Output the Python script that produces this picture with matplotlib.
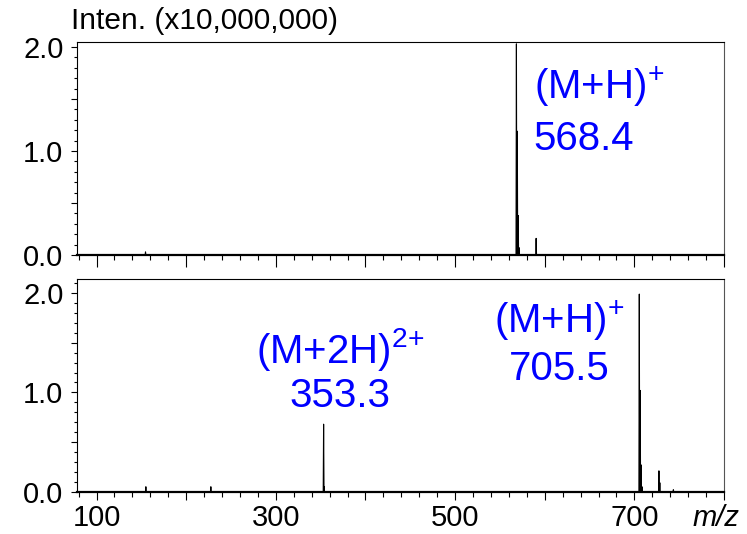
import matplotlib
matplotlib.use("Agg")
import matplotlib.pyplot as plt
from matplotlib.ticker import FixedLocator, MultipleLocator, FuncFormatter
import numpy as np

plt.rcParams['font.family'] = ['Liberation Sans', 'DejaVu Sans']
plt.rcParams['mathtext.fontset'] = 'custom'
plt.rcParams['mathtext.rm'] = 'Liberation Sans'
plt.rcParams['mathtext.it'] = 'Liberation Sans:italic'

# Peak lists (m/z, intensity in units of 10,000,000 counts)
top_mz = [154.6, 568.4, 569.4, 570.4, 571.4, 590.4]
top_int = [0.03, 2.03, 1.19, 0.38, 0.07, 0.16]

bottom_mz = [155.0, 227.5, 353.3, 353.8, 705.5, 706.5, 707.5, 708.5, 727.4, 728.4, 743.5]
bottom_int = [0.05, 0.05, 0.68, 0.05, 1.99, 1.02, 0.27, 0.05, 0.21, 0.09, 0.02]

x_labels = {100: "100", 300: "300", 500: "500", 700: "700"}

W, H = 747, 534
fig = plt.figure(figsize=(W / 100, H / 100), dpi=100)

def px_rect(left, top, right, bottom):
    return [left / W, 1 - bottom / H, (right - left) / W, (bottom - top) / H]

ax_top = fig.add_axes(px_rect(77.3, 42, 724, 255))
ax_bot = fig.add_axes(px_rect(77.3, 279.3, 724, 491.7))


def profile(mz, inten, hw=0.45):
    xs, ys = [60.0], [0.0]
    for m, h in sorted(zip(mz, inten)):
        xs += [m - hw, m, m + hw]
        ys += [0.0, h, 0.0]
    xs.append(820.0)
    ys.append(0.0)
    return np.array(xs), np.array(ys)


def style(ax, ytop, show_xlabels, xmaj_len):
    ax.set_xlim(78.5, 800)
    ax.set_ylim(0, ytop)
    for s in ['top', 'left']:
        ax.spines[s].set_linewidth(0.8)
        ax.spines[s].set_color('black')
    ax.spines['right'].set_linewidth(0.8)
    ax.spines['right'].set_color('#555555')
    ax.spines['bottom'].set_linewidth(1.6)
    ax.xaxis.set_major_locator(FixedLocator([100, 200, 300, 400, 500, 600, 700, 800]))
    ax.xaxis.set_minor_locator(MultipleLocator(20))
    if show_xlabels:
        ax.xaxis.set_major_formatter(FuncFormatter(lambda v, p: x_labels.get(int(round(v)), "")))
    else:
        ax.xaxis.set_major_formatter(FuncFormatter(lambda v, p: ""))
    ax.yaxis.set_major_locator(FixedLocator([0.0, 0.5, 1.0, 1.5, 2.0]))
    ax.yaxis.set_minor_locator(MultipleLocator(0.1))
    ax.yaxis.set_major_formatter(FuncFormatter(
        lambda v, p: f"{v:.1f}" if abs(v - round(v)) < 1e-6 else ""))
    ax.tick_params(axis='x', which='major', direction='out', length=xmaj_len,
                   width=0.8, labelsize=21, pad=2.5)
    ax.tick_params(axis='x', which='minor', direction='out', length=3.6, width=0.8)
    ax.tick_params(axis='y', which='major', direction='out', length=4.5,
                   width=0.8, labelsize=21, pad=5.5)
    ax.tick_params(axis='y', which='minor', direction='out', length=2.4, width=0.8)


xt, yt = profile(top_mz, top_int)
ax_top.plot(xt, yt, color='black', lw=0.8, clip_on=True)
xb, yb = profile(bottom_mz, bottom_int)
ax_bot.plot(xb, yb, color='black', lw=0.8, clip_on=True)

style(ax_top, 2.048, False, 8.4)
style(ax_bot, 2.139, True, 6.0)

blue = '#0000ff'
lab_fs = 29
ax_top.text(587.8, 1.497, r'(M+H)$^{\text{+}}$', color=blue, fontsize=lab_fs, ha='left', va='baseline')
ax_top.text(587.8, 1.01, '568.4', color=blue, fontsize=lab_fs, ha='left', va='baseline')

ax_bot.text(371.4, 1.293, r'(M+2H)$^{\text{2+}}$', color=blue, fontsize=lab_fs, ha='center', va='baseline')
ax_bot.text(371.4, 0.85, '353.3', color=blue, fontsize=lab_fs, ha='center', va='baseline')
ax_bot.text(615.7, 1.595, r'(M+H)$^{\text{+}}$', color=blue, fontsize=lab_fs, ha='center', va='baseline')
ax_bot.text(615.7, 1.125, '705.5', color=blue, fontsize=lab_fs, ha='center', va='baseline')

fig.text(70.7 / W, 1 - 29.3 / H, 'Inten. (x10,000,000)', fontsize=21.5, ha='left', va='baseline')
fig.text(693 / W, 1 - 526 / H, 'm/z', fontsize=21, style='italic', ha='left', va='baseline')

fig.savefig('out.png', dpi=100)
